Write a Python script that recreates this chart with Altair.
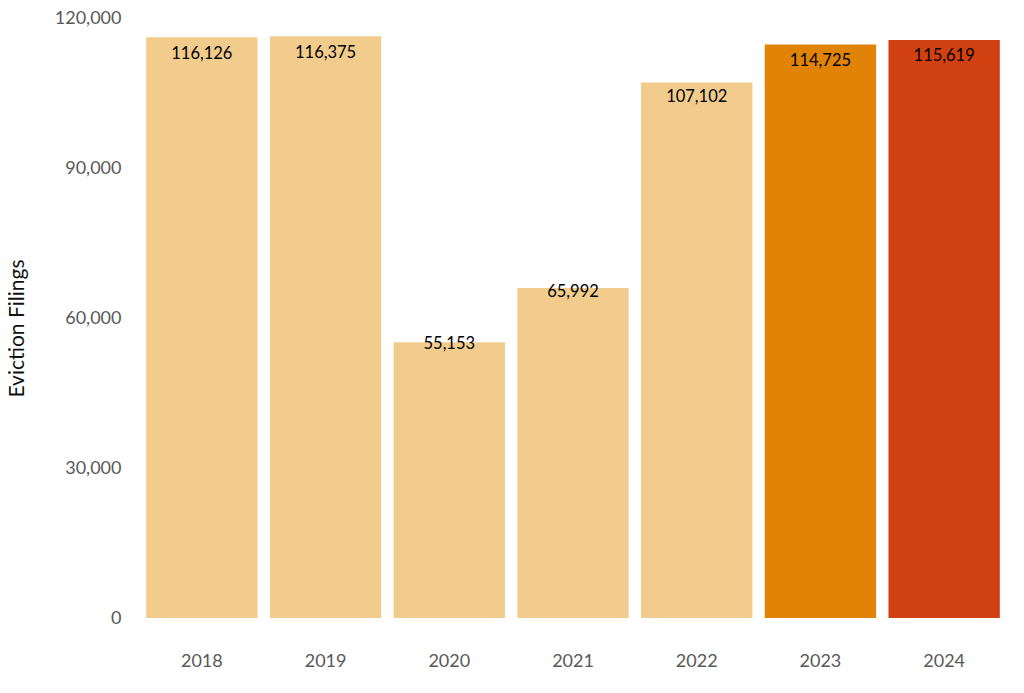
import altair as alt
import pandas as pd

years = ["2018", "2019", "2020", "2021", "2022", "2023", "2024"]
filings = [116126, 116375, 55153, 65992, 107102, 114725, 115619]
colors = ["#F2CC8C", "#F2CC8C", "#F2CC8C", "#F2CC8C", "#F2CC8C", "#E08306", "#D14010"]

df = pd.DataFrame({"year": years, "filings": filings, "color": colors})

xenc = alt.X("year:N", sort=years,
             scale=alt.Scale(paddingInner=0.1, paddingOuter=0.05),
             axis=alt.Axis(title=None, labelAngle=0, labelFont="Lato", labelFontSize=18,
                           labelColor="#595959", labelPadding=34, ticks=False, domain=False))
yscale = alt.Scale(domain=[0, 120000])

bars = alt.Chart(df).mark_bar().encode(
    x=xenc,
    y=alt.Y("filings:Q", scale=yscale,
            axis=alt.Axis(title="Eviction Filings", values=[0, 30000, 60000, 90000, 120000],
                          format=",d", labelFont="Lato", labelFontSize=18, labelColor="#595959",
                          labelPadding=19, ticks=False, domain=False, grid=False,
                          titleFont="Lato", titleFontSize=21, titleFontWeight="normal",
                          titleColor="#111111", titleX=-123, titleY=310, titleAngle=-90,
                          titleAlign="center", titleBaseline="middle")),
    color=alt.Color("color:N", scale=None),
)

labels = alt.Chart(df).transform_calculate(
    labelpos="datum.filings * 0.9496 + 2526"
).mark_text(baseline="middle", font="Lato", fontSize=16.5, color="#000000").encode(
    x=xenc,
    y=alt.Y("labelpos:Q", scale=yscale),
    text=alt.Text("filings:Q", format=",d"),
)

chart = (bars + labels).properties(
    width=866, height=600,
    autosize=alt.AutoSizeParams(type="none"),
    padding={"left": 132, "top": 10, "right": 10, "bottom": 60},
).configure_view(stroke=None)

chart.save("out.html", embed_options={"renderer": "svg", "actions": False})
